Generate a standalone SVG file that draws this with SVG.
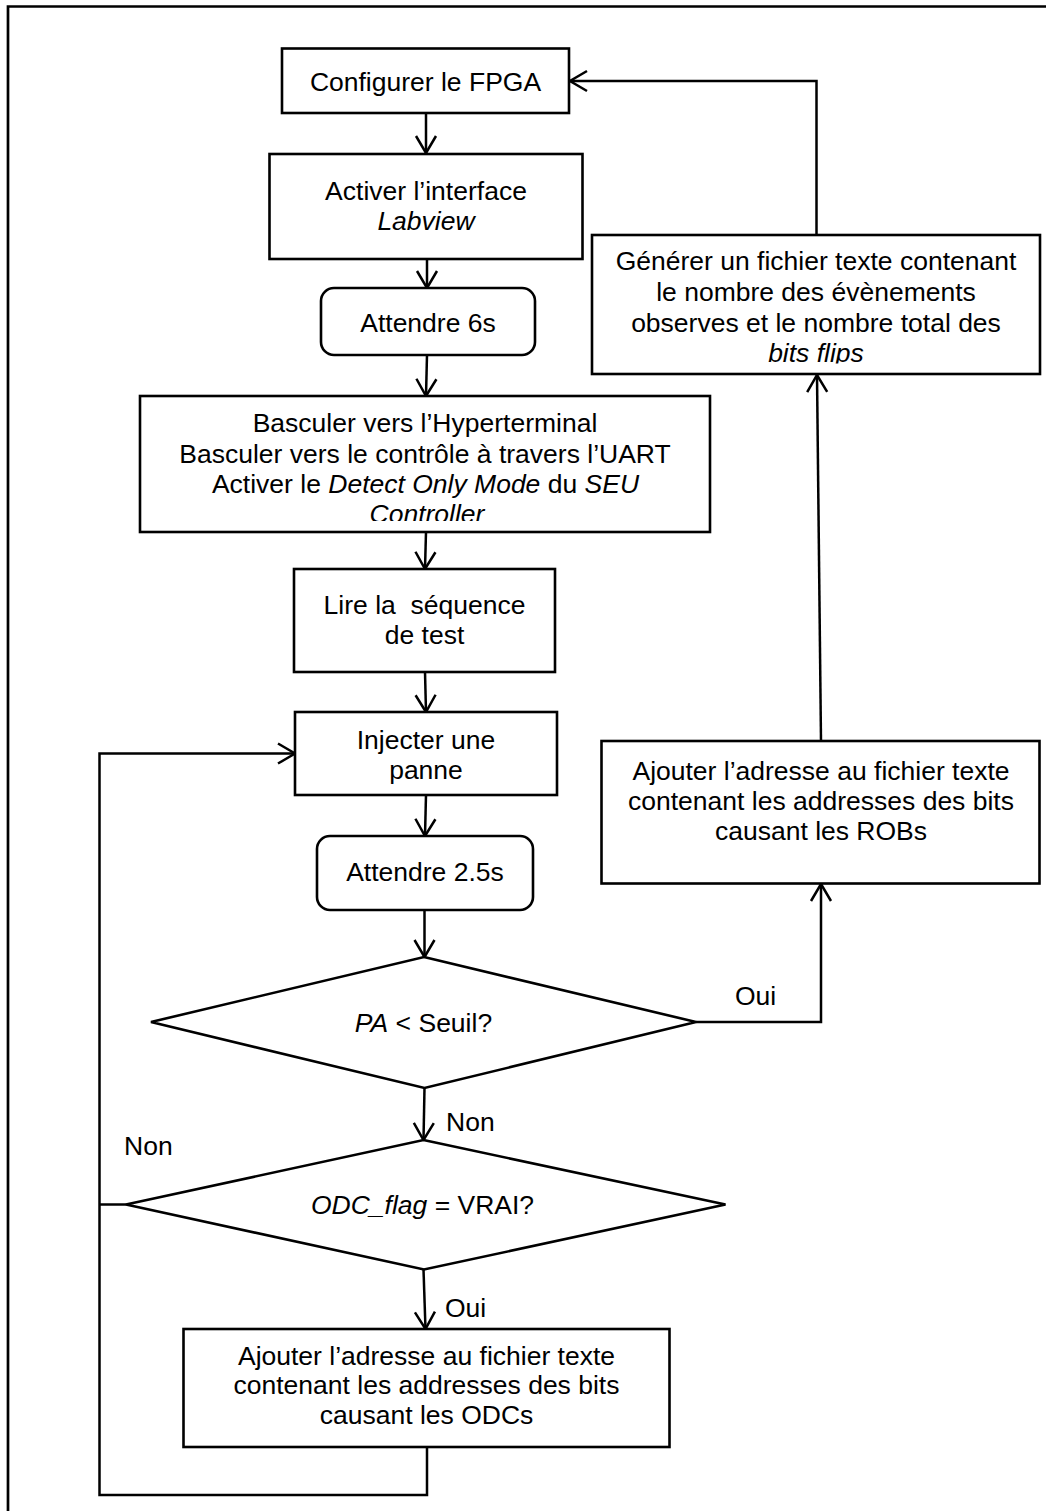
<svg xmlns="http://www.w3.org/2000/svg" width="1046" height="1511" viewBox="0 0 1046 1511">
<style>
.box{fill:#fff;stroke:#000;stroke-width:2.6}
.ln{fill:none;stroke:#000;stroke-width:2.5}
text{font-family:"Liberation Sans",Arial,sans-serif;font-size:26.5px;fill:#000}
.c{text-anchor:middle}
.i{font-style:italic}
</style>
<defs>
<marker id="arr" markerUnits="userSpaceOnUse" markerWidth="40" markerHeight="40" viewBox="-20 -20 40 40" refX="0" refY="0" orient="auto" overflow="visible">
<path d="M-17,-10 L0,0 L-17,10" fill="none" stroke="#000" stroke-width="2.5"/>
</marker>
<clipPath id="clip4"><rect x="140" y="396" width="570" height="125"/></clipPath>
<clipPath id="clipG"><rect x="592" y="235" width="448" height="128.5"/></clipPath>
</defs>
<rect x="0" y="0" width="1046" height="1511" fill="#fff"/>
<path d="M8,1511 L8,6.5 L1046,6.5" fill="none" stroke="#000" stroke-width="2.7"/>

<g id="connectors">
<line class="ln" x1="426" y1="113" x2="426" y2="153" marker-end="url(#arr)"/>
<line class="ln" x1="427" y1="259" x2="427" y2="288" marker-end="url(#arr)"/>
<line class="ln" x1="427" y1="355" x2="426" y2="396" marker-end="url(#arr)"/>
<line class="ln" x1="426" y1="532" x2="425" y2="569" marker-end="url(#arr)"/>
<line class="ln" x1="425" y1="672" x2="426" y2="712" marker-end="url(#arr)"/>
<line class="ln" x1="426" y1="795" x2="425" y2="836" marker-end="url(#arr)"/>
<line class="ln" x1="424.5" y1="910" x2="424.5" y2="957" marker-end="url(#arr)"/>
<line class="ln" x1="424.5" y1="1088" x2="423.5" y2="1140" marker-end="url(#arr)"/>
<line class="ln" x1="423.5" y1="1269.5" x2="425.5" y2="1329" marker-end="url(#arr)"/>
<polyline class="ln" points="696,1022 821,1022 821,884" marker-end="url(#arr)"/>
<line class="ln" x1="821" y1="741" x2="817" y2="375" marker-end="url(#arr)"/>
<polyline class="ln" points="816.5,235 816.5,81 570,81" marker-end="url(#arr)"/>
<polyline class="ln" points="126,1204.5 99.5,1204.5"/>
<polyline class="ln" points="427,1447 427,1495 99.5,1495 99.5,753.5 295,753.5" marker-end="url(#arr)"/>
<text x="735" y="1005">Oui</text>
<text x="446" y="1131">Non</text>
<text x="124" y="1155">Non</text>
<text x="445" y="1317">Oui</text>
</g>

<g id="n1">
<rect class="box" x="282" y="48.5" width="287" height="64.5"/>
<text class="c" x="425.5" y="91">Configurer le FPGA</text>
</g>

<g id="n2">
<rect class="box" x="269.5" y="154" width="313" height="105"/>
<text class="c" x="426" y="200">Activer l’interface</text>
<text class="c i" x="426" y="230">Labview</text>
</g>

<g id="n3">
<rect class="box" x="321" y="288" width="214" height="67" rx="13" ry="13"/>
<text class="c" x="428" y="331.5">Attendre 6s</text>
</g>

<g id="n4">
<rect class="box" x="140" y="396" width="570" height="136"/>
<g clip-path="url(#clip4)">
<text class="c" x="425" y="431.5">Basculer vers l’Hyperterminal</text>
<text class="c" x="425" y="462.5">Basculer vers le contrôle à travers l’UART</text>
<text class="c" x="425.5" y="492.5">Activer le <tspan class="i">Detect Only Mode</tspan> du <tspan class="i">SEU</tspan></text>
<text class="c i" x="427" y="523">Controller</text>
</g>
</g>

<g id="n5">
<rect class="box" x="294" y="569" width="261" height="103"/>
<text class="c" x="424.5" y="614" xml:space="preserve">Lire la  séquence</text>
<text class="c" x="424.5" y="643.5">de test</text>
</g>

<g id="n6">
<rect class="box" x="295" y="712" width="262" height="83"/>
<text class="c" x="426" y="748.5">Injecter une</text>
<text class="c" x="426" y="778.5">panne</text>
</g>

<g id="n7">
<rect class="box" x="317" y="836" width="216" height="74" rx="13" ry="13"/>
<text class="c" x="425" y="881">Attendre 2.5s</text>
</g>

<g id="n8">
<polygon class="box" points="424,957 696,1022 424.5,1088 151,1022"/>
<text class="c" x="423.5" y="1031.5"><tspan class="i">PA</tspan> &lt; Seuil?</text>
</g>

<g id="n9">
<polygon class="box" points="423.5,1140 725.5,1204.5 424,1269.5 126,1204.5"/>
<text class="c" x="422.5" y="1213.5"><tspan class="i">ODC_flag</tspan> = VRAI?</text>
</g>

<g id="n10">
<rect class="box" x="183.5" y="1329" width="486" height="118"/>
<text class="c" x="426.5" y="1364.5">Ajouter l’adresse au fichier texte</text>
<text class="c" x="426.5" y="1394">contenant les addresses des bits</text>
<text class="c" x="426.5" y="1424">causant les ODCs</text>
</g>

<g id="n11">
<rect class="box" x="601.5" y="741" width="438" height="142.5"/>
<text class="c" x="821" y="780">Ajouter l’adresse au fichier texte</text>
<text class="c" x="821" y="810">contenant les addresses des bits</text>
<text class="c" x="821" y="840">causant les ROBs</text>
</g>

<g id="n12">
<rect class="box" x="592" y="235" width="448" height="139"/>
<g clip-path="url(#clipG)">
<text class="c" x="816" y="270">Générer un fichier texte contenant</text>
<text class="c" x="816" y="301">le nombre des évènements</text>
<text class="c" x="816" y="331.5">observes et le nombre total des</text>
<text class="c i" x="816" y="362">bits flips</text>
</g>
</g>
</svg>
